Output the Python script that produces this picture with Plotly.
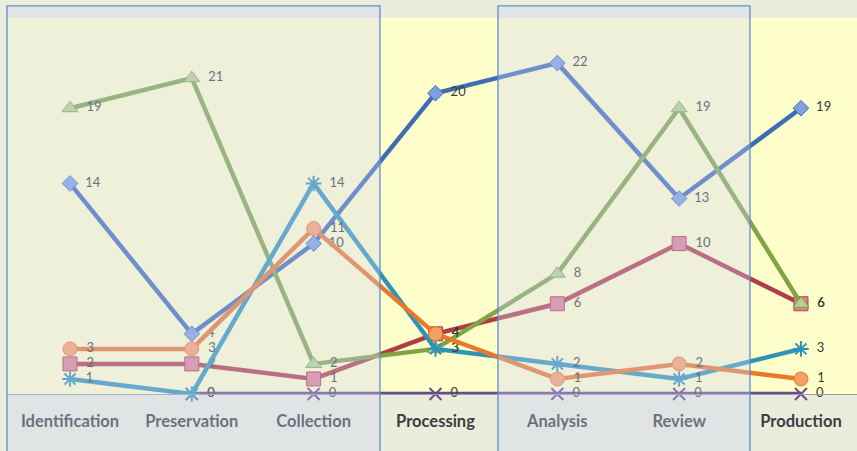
import plotly.graph_objects as go

categories = ["Identification", "Preservation", "Collection", "Processing", "Analysis", "Review", "Production"]

blue_vals = [14, 4, 10, 20, 22, 13, 19]
red_vals = [2, 2, 1, 4, 6, 10, 6]
green_vals = [19, 21, 2, 3, 8, 19, 6]
purple_vals = [None, 0, 0, 0, 0, 0, 0]
teal_vals = [1, 0, 14, 3, 2, 1, 3]
orange_vals = [3, 3, 11, 4, 1, 2, 1]

series = [
    ("Series 1", blue_vals, "#3d6db3", "#7e9fe0", "diamond", 12),
    ("Series 2", red_vals, "#b03c48", "#de8295", "square", 14),
    ("Series 3", green_vals, "#7fa544", "#b4d18f", "triangle-up", 14),
    ("Series 4", purple_vals, "#6a4a8e", "#6a4a8e", "x-thin-open", 12),
    ("Series 5", teal_vals, "#2f93b6", "#2f93b6", "asterisk-open", 13),
    ("Series 6", orange_vals, "#e8792c", "#f7a066", "circle", 14),
]

fig = go.Figure()
for name, vals, lc, fc, sym, sz in series:
    open_sym = sym.endswith("open")
    fig.add_trace(go.Scatter(
        x=categories, y=vals, name=name,
        mode="lines+markers+text",
        line=dict(color=lc, width=4.5),
        marker=dict(symbol=sym, size=sz, color=fc,
                    line=dict(color=lc, width=2 if open_sym else 1)),
        text=[("" if v is None else f"  {v}") for v in vals],
        textposition="middle right",
        textfont=dict(family="Lato, 'DejaVu Sans', sans-serif", size=13, color="#3a3a3a"),
        cliponaxis=False,
        showlegend=False,
    ))

# translucent overlay boxes (drawn above the chart)
box_fill = "rgba(205,210,245,0.34)"
box_line = "#5f8dcc"
for x0, x1 in [(0.0, 0.4388), (0.5776, 0.8741)]:
    fig.add_shape(type="rect", xref="paper", yref="paper",
                  x0=x0, x1=x1, y0=-0.25, y1=1.032,
                  fillcolor=box_fill, line=dict(color=box_line, width=1.3),
                  layer="above")

fig.update_layout(
    width=857, height=451,
    margin=dict(l=7, r=0, t=18, b=57),
    paper_bgcolor="#eaeddc",
    plot_bgcolor="#ffffcc",
    showlegend=False,
    xaxis=dict(
        type="category", categoryorder="array", categoryarray=categories,
        range=[-0.517, 6.46],
        showgrid=False, zeroline=False,
        showline=True, linecolor="#9c9cb0", linewidth=1,
        ticks="", ticklabelstandoff=12,
        tickfont=dict(family="Lato, 'DejaVu Sans', sans-serif", size=16.5, color="#3c3c44", weight="bold"),
    ),
    yaxis=dict(
        range=[0, 25], showgrid=False, zeroline=False,
        showline=False, showticklabels=False, ticks="",
    ),
)

fig.write_html("out.html", config={"displayModeBar": False},
               post_script="document.body.style.margin='0';document.body.style.background='#eaeddc';")
